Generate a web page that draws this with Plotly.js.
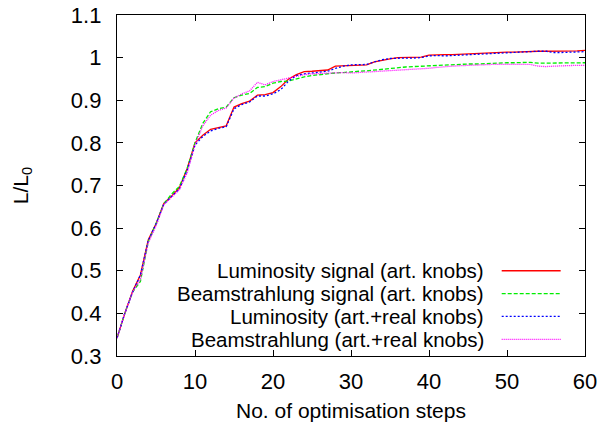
<!DOCTYPE html>
<html>
<head>
<meta charset="utf-8">
<script src="https://cdn.plot.ly/plotly-3.0.1.min.js"></script>
<style>html,body{margin:0;padding:0;background:#fff;}#chart{width:616px;height:429px;}</style>
</head>
<body>
<div id="chart"></div>
<script>
const steps = [];
for (let i = 0; i <= 60; i++) steps.push(i);

const lumSignal = [0.342,0.400,0.452,0.490,0.572,0.610,0.658,0.675,0.695,0.740,0.800,0.818,0.832,0.836,0.840,0.884,0.892,0.898,0.912,0.913,0.918,0.932,0.950,0.960,0.967,0.968,0.969,0.971,0.980,0.981,0.982,0.982,0.983,0.990,0.994,0.997,1.000,1.000,1.000,1.001,1.006,1.007,1.007,1.007,1.008,1.008,1.009,1.010,1.011,1.012,1.013,1.013,1.014,1.014,1.015,1.015,1.015,1.015,1.016,1.016,1.017];
const beamSignal = [0.342,0.400,0.450,0.475,0.568,0.610,0.657,0.680,0.698,0.740,0.800,0.846,0.873,0.880,0.884,0.906,0.912,0.916,0.930,0.932,0.940,0.944,0.945,0.950,0.955,0.958,0.960,0.963,0.964,0.965,0.967,0.968,0.969,0.971,0.972,0.975,0.976,0.978,0.979,0.980,0.981,0.982,0.982,0.983,0.984,0.985,0.985,0.986,0.987,0.987,0.988,0.988,0.989,0.989,0.987,0.987,0.987,0.987,0.988,0.988,0.988];
const lumReal = [0.342,0.400,0.450,0.490,0.570,0.610,0.656,0.674,0.692,0.736,0.795,0.815,0.828,0.834,0.838,0.880,0.890,0.896,0.910,0.910,0.915,0.925,0.945,0.958,0.962,0.964,0.966,0.968,0.975,0.980,0.983,0.984,0.984,0.990,0.995,0.998,0.999,0.999,0.999,1.000,1.004,1.005,1.004,1.005,1.006,1.007,1.008,1.008,1.009,1.010,1.012,1.013,1.014,1.014,1.015,1.015,1.012,1.012,1.013,1.013,1.014];
const beamReal = [0.342,0.400,0.450,0.480,0.565,0.605,0.655,0.672,0.690,0.730,0.795,0.840,0.865,0.876,0.882,0.905,0.915,0.922,0.942,0.936,0.944,0.948,0.952,0.956,0.960,0.962,0.963,0.964,0.964,0.965,0.964,0.965,0.966,0.968,0.969,0.970,0.971,0.972,0.972,0.973,0.975,0.977,0.979,0.980,0.981,0.982,0.983,0.983,0.984,0.984,0.984,0.984,0.984,0.984,0.980,0.979,0.980,0.981,0.981,0.982,0.982];

const seriesNames = ["Luminosity signal (art. knobs)","Beamstrahlung signal (art. knobs)","Luminosity (art.+real knobs)","Beamstrahlung (art.+real knobs)"];
const seriesData = [lumSignal, beamSignal, lumReal, beamReal];
const colors = ["#ff0000","#00ee00","#0000ff","#ff00ff"];
const dashes = ["solid","4px,2px","2px,2px","1px,1px"];
const widths = [1.3,1.3,1.3,1.3];

const FONT = "Liberation Sans, Arial, Helvetica, sans-serif";
const traces = seriesData.map((ys, i) => ({
  x: steps, y: ys, type: "scatter", mode: "lines", name: seriesNames[i],
  line: {color: colors[i], dash: dashes[i], width: widths[i]}, showlegend: false
}));

// custom gnuplot-style legend: right-aligned text, sample line on the right
const legX = 0.786, legY0 = 0.25, legDy = 0.067;
const annotations = seriesNames.map((n, i) => ({
  xref: "paper", yref: "paper", x: legX, y: legY0 - i*legDy, xanchor: "right", yanchor: "middle",
  text: n, showarrow: false, borderpad: 0, font: {family: FONT, size: 20.5, color: "#000"}
}));
const shapes = seriesNames.map((n, i) => ({
  type: "line", xref: "paper", yref: "paper", x0: 0.822, x1: 0.948,
  y0: legY0 - i*legDy, y1: legY0 - i*legDy,
  line: {color: colors[i], dash: dashes[i], width: widths[i]}
}));

const layout = {
  width: 616, height: 429,
  margin: {l: 117, r: 31, t: 15, b: 73},
  paper_bgcolor: "#fff", plot_bgcolor: "#fff",
  font: {family: FONT, size: 22, color: "#000"},
  xaxis: {
    range: [0, 60], tickvals: [0,10,20,30,40,50,60], ticks: "inside", ticklen: 6, tickcolor: "#000",
    showline: true, linecolor: "#000", linewidth: 1.2, mirror: "allticks", showgrid: false, zeroline: false,
    ticklabelstandoff: 5,
    title: {text: "No. of optimisation steps", font: {family: FONT, size: 21}, standoff: 10}
  },
  yaxis: {
    range: [0.3, 1.1], tickvals: [0.3,0.4,0.5,0.6,0.7,0.8,0.9,1.0,1.1],
    ticktext: ["0.3","0.4","0.5","0.6","0.7","0.8","0.9","1","1.1"],
    ticks: "inside", ticklen: 6, tickcolor: "#000",
    showline: true, linecolor: "#000", linewidth: 1.2, mirror: "allticks", showgrid: false, zeroline: false,
    ticklabelstandoff: 10,
    title: {text: "L/L<sub>0</sub>", font: {family: FONT, size: 21}, standoff: 36}
  },
  annotations: annotations,
  shapes: shapes
};

Plotly.newPlot("chart", traces, layout, {displayModeBar: false, staticPlot: true});
</script>
</body>
</html>
